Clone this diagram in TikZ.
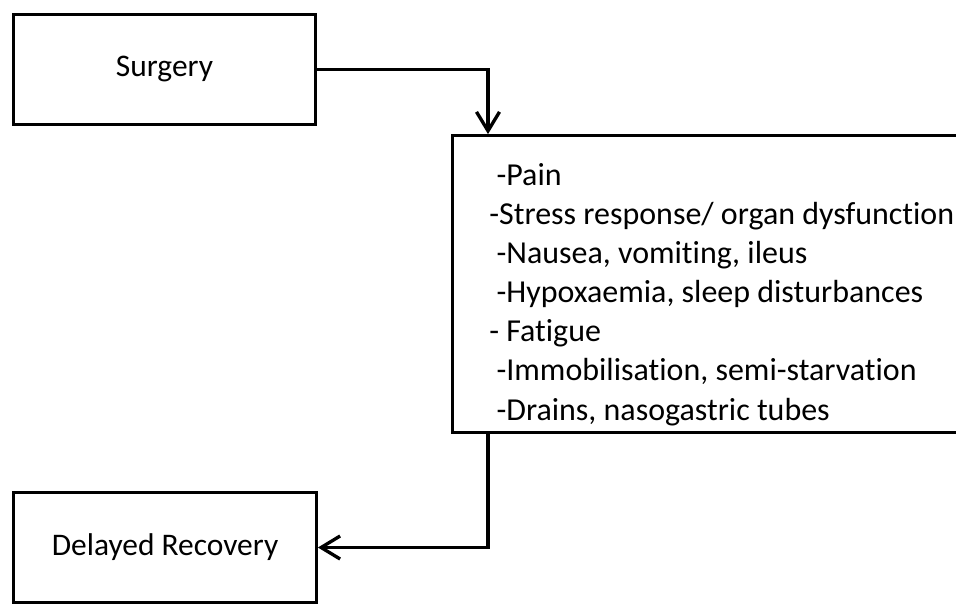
\documentclass[tikz,border=0pt]{standalone}
\usepackage{fontspec}
\setmainfont{Carlito}[Ligatures=NoCommon]
\usetikzlibrary{arrows.meta}
\tikzset{box/.style={draw,line width=1.9pt,minimum width=6.05cm,minimum height=2.2cm,font=\fontsize{17.9}{20}\selectfont},
arr/.style={line width=1.9pt,-{Straight Barb[length=0.38cm,width=0.46cm,line width=1.9pt]}}}
\begin{document}
\begin{tikzpicture}[x=0.02cm,y=-0.02cm]%surgery and delayed recovery
\useasboundingbox (0,0) rectangle (956,604);
\node[box] (surgery) at (164.5,69.5) {Surgery};
\node[box] (delayed) at (165,547.5) {Delayed Recovery};
\node[draw,line width=1.9pt,minimum width=10.25cm,minimum height=5.93cm] (effects) at (708.75,284) {};
\node[anchor=base west,inner sep=0pt,align=left,font=\fontsize{18.2}{22.2}\selectfont] (list) at (489,420)
{\ -Pain\\
-Stress response/ organ dysfunction\\
\ -Nausea, vomiting, ileus\\
\ -Hypoxaemia, sleep disturbances\\
- Fatigue\\
\ -Immobilisation, semi-starvation\\
\ -Drains, nasogastric tubes};
\coordinate (drop) at (488,0);
\draw[arr] (surgery.east) -| (drop |- effects.north);
\draw[arr] (drop |- effects.south) |- (delayed.east);
\end{tikzpicture}
\end{document}
